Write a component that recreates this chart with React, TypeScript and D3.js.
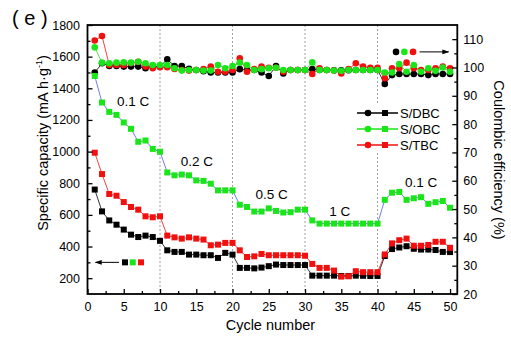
import { useRef, useEffect } from 'react';
import * as d3 from 'd3';

// cycle index 1..50
const cycles = d3.range(1, 51);

// specific capacity, mA h g-1
const capDBC = [
    760, 622, 565, 538, 507, 475, 460, 469, 460, 436,
    376, 366, 366, 349, 349, 345, 345, 328, 360, 349,
    265, 265, 262, 267, 276, 286, 283, 283, 283, 283,
    216, 216, 216, 216, 214, 214, 216, 215, 214, 214,
    340, 384, 394, 402, 386, 381, 381, 378, 366, 365,
];
const capOBC = [
    1478, 1310, 1251, 1232, 1184, 1144, 1062, 1070, 1017, 999,
    868, 850, 855, 850, 818, 815, 797, 755, 755, 755,
    664, 650, 621, 621, 641, 625, 615, 617, 633, 633,
    565, 545, 545, 545, 545, 545, 545, 545, 545, 545,
    695, 740, 745, 695, 705, 712, 670, 680, 688, 645,
];
const capTBC = [
    993, 858, 732, 721, 681, 650, 633, 591, 585, 591,
    469, 458, 450, 458, 450, 444, 408, 412, 423, 423,
    376, 334, 338, 353, 345, 345, 345, 345, 345, 342,
    290, 265, 265, 248, 210, 212, 244, 238, 238, 238,
    350, 420, 440, 450, 405, 405, 410, 430, 430, 392,
];

// coulombic efficiency, %
const ceDBC = [
    98.2, 101.5, 100.5, 100.5, 100.3, 100.3, 100.3, 99.7, 100.3, 100.3,
    102.9, 100.5, 100.5, 99.5, 99.1, 98.7, 98.2, 98.2, 98.2, 98.2,
    99.4, 99.1, 99.1, 98.2, 97.0, 100.5, 97.9, 99.1, 99.1, 99.1,
    99.4, 99.1, 99.1, 99.0, 99.0, 99.0, 99.1, 99.1, 99.1, 99.1,
    94.2, 97.3, 97.7, 97.7, 97.7, 97.7, 97.3, 97.7, 97.7, 97.7,
];
const ceOBC = [
    107.1, 101.7, 101.5, 101.7, 101.8, 101.7, 102.0, 101.5, 100.9, 100.9,
    100.9, 99.7, 98.9, 99.1, 99.1, 98.9, 98.9, 100.9, 99.7, 100.5,
    101.7, 100.9, 99.1, 99.4, 99.7, 99.9, 99.1, 99.1, 99.1, 99.1,
    101.8, 99.1, 99.1, 98.9, 98.8, 99.1, 99.1, 99.1, 99.1, 99.1,
    98.2, 98.2, 101.2, 98.5, 100.9, 98.5, 99.7, 98.8, 100.0, 98.5,
];
const ceTBC = [
    109.5, 111.1, 100.9, 100.9, 100.9, 101.5, 102.0, 100.3, 99.7, 100.1,
    100.1, 99.5, 99.1, 98.9, 99.1, 99.4, 100.3, 98.5, 98.5, 99.1,
    103.2, 98.5, 99.4, 100.3, 99.9, 99.9, 98.5, 99.1, 99.1, 99.1,
    97.7, 99.7, 99.1, 98.9, 97.9, 99.4, 101.5, 100.3, 99.9, 99.9,
    96.2, 99.7, 99.7, 101.7, 99.7, 99.1, 99.1, 99.7, 100.3, 99.7,
];

const seriesNames = ['S/DBC', 'S/OBC', 'S/TBC'];
const seriesColors = ['#000000', '#19e619', '#f01010'];
const capLineColors = ['#000000', '#4a5ce8', '#f01010'];

const rateBreaks = [10, 20, 30, 40];
const rateLabels = [
    { text: '0.1 C', x: 6.3, y: 1314 },
    { text: '0.2 C', x: 15.1, y: 936 },
    { text: '0.5 C', x: 25.4, y: 727 },
    { text: '1 C', x: 34.8, y: 620 },
    { text: '0.1 C', x: 46, y: 803 },
];

const FONT = '"Liberation Sans", Arial, sans-serif';

export default function App() {
    const ref = useRef<SVGSVGElement>(null);

    useEffect(() => {
        if (!ref.current) return;
        const svg = d3.select(ref.current);
        svg.selectAll('*').remove();

        const left = 87.5, right = 457.3, top = 25, bottom = 294;

        const x = d3.scaleLinear().domain([0, 51]).range([left, right]);
        const yL = d3.scaleLinear().domain([100, 1800]).range([bottom, top]);
        const yR = d3.scaleLinear().domain([20, 115]).range([bottom, top]);

        // rate dividers
        svg.append('g').selectAll('line').data(rateBreaks).join('line')
            .attr('x1', d => x(d)).attr('x2', d => x(d))
            .attr('y1', top).attr('y2', bottom)
            .attr('stroke', '#888').attr('stroke-width', 0.8)
            .attr('stroke-dasharray', '2,2');

        const capData = [capDBC, capOBC, capTBC];
        const ceData = [ceDBC, ceOBC, ceTBC];
        const order = [0, 2, 1];

        // coulombic efficiency
        order.forEach(i => {
            const pts = cycles.map((c, k) => [c, ceData[i][k]] as [number, number]);
            const line = d3.line<[number, number]>().x(d => x(d[0])).y(d => yR(d[1]));
            svg.append('path').datum(pts).attr('d', line)
                .attr('fill', 'none').attr('stroke', seriesColors[i]).attr('stroke-width', 0.8);
            svg.append('g').selectAll('circle').data(pts).join('circle')
                .attr('cx', d => x(d[0])).attr('cy', d => yR(d[1])).attr('r', 3.3)
                .attr('fill', seriesColors[i]);
        });

        // capacity
        order.forEach(i => {
            const pts = cycles.map((c, k) => [c, capData[i][k]] as [number, number]);
            const line = d3.line<[number, number]>().x(d => x(d[0])).y(d => yL(d[1]));
            svg.append('path').datum(pts).attr('d', line)
                .attr('fill', 'none').attr('stroke', capLineColors[i]).attr('stroke-width', 0.8);
            svg.append('g').selectAll('rect').data(pts).join('rect')
                .attr('x', d => x(d[0]) - 3).attr('y', d => yL(d[1]) - 3)
                .attr('width', 6).attr('height', 6)
                .attr('fill', seriesColors[i]);
        });

        // rate labels
        svg.append('g').selectAll('text').data(rateLabels).join('text')
            .attr('x', d => x(d.x)).attr('y', d => yL(d.y))
            .attr('text-anchor', 'middle').attr('dominant-baseline', 'central')
            .attr('font-family', FONT).attr('font-size', 13.5)
            .text(d => d.text);

        // axes
        const styleAxis = (g: d3.Selection<SVGGElement, unknown, null, undefined>) => {
            g.selectAll('.domain').remove();
            g.selectAll('line').attr('stroke', '#000').attr('stroke-width', 1.3);
            g.selectAll('text').attr('font-family', FONT).attr('font-size', 12.5).attr('fill', '#000');
        };
        const fmt = d3.format('d');

        const xg = svg.append('g').attr('transform', `translate(0,${bottom})`)
            .call(d3.axisBottom(x).tickValues(d3.range(0, 51, 5)).tickSize(-5).tickPadding(8).tickFormat(fmt as any));
        styleAxis(xg);
        const xm = svg.append('g').attr('transform', `translate(0,${bottom})`)
            .call(d3.axisBottom(x).tickValues(d3.range(2.5, 50, 5)).tickSize(-3).tickFormat(() => ''));
        styleAxis(xm);

        const lg = svg.append('g').attr('transform', `translate(${left},0)`)
            .call(d3.axisLeft(yL).tickValues(d3.range(200, 1801, 200)).tickSize(-5).tickPadding(7.5).tickFormat(fmt as any));
        styleAxis(lg);
        const lm = svg.append('g').attr('transform', `translate(${left},0)`)
            .call(d3.axisLeft(yL).tickValues(d3.range(300, 1800, 200)).tickSize(-3).tickFormat(() => ''));
        styleAxis(lm);

        const rg = svg.append('g').attr('transform', `translate(${right},0)`)
            .call(d3.axisRight(yR).tickValues(d3.range(20, 111, 10)).tickSize(-5).tickPadding(6).tickFormat(fmt as any));
        styleAxis(rg);
        const rm = svg.append('g').attr('transform', `translate(${right},0)`)
            .call(d3.axisRight(yR).tickValues(d3.range(25, 111, 10)).tickSize(-3).tickFormat(() => ''));
        styleAxis(rm);

        // frame
        svg.append('rect').attr('x', left).attr('y', top)
            .attr('width', right - left).attr('height', bottom - top)
            .attr('fill', 'none').attr('stroke', '#000').attr('stroke-width', 1.8);

        // legend
        const leg = svg.append('g');
        leg.append('rect').attr('x', 352).attr('y', 104).attr('width', 92).attr('height', 49).attr('fill', '#fff');
        seriesNames.forEach((name, i) => {
            const ly = 113 + i * 16;
            leg.append('line').attr('x1', 357).attr('x2', 398).attr('y1', ly).attr('y2', ly)
                .attr('stroke', seriesColors[i]).attr('stroke-width', 1.6);
            leg.append('circle').attr('cx', 368).attr('cy', ly).attr('r', 3.3).attr('fill', seriesColors[i]);
            leg.append('rect').attr('x', 382).attr('y', ly - 3).attr('width', 6).attr('height', 6).attr('fill', seriesColors[i]);
            leg.append('text').attr('x', 400).attr('y', ly).attr('dominant-baseline', 'central')
                .attr('font-family', FONT).attr('font-size', 13).text(name);
        });

        // arrows pointing to axes
        const defs = svg.append('defs');
        defs.append('marker').attr('id', 'ah').attr('viewBox', '0 0 10 10')
            .attr('refX', 9).attr('refY', 5).attr('markerWidth', 7).attr('markerHeight', 7)
            .attr('orient', 'auto-start-reverse')
            .append('path').attr('d', 'M0,1.5 L10,5 L0,8.5 Z').attr('fill', '#000');

        svg.append('line').attr('x1', x(4.35)).attr('x2', x(1.1))
            .attr('y1', yL(300)).attr('y2', yL(300))
            .attr('stroke', '#000').attr('stroke-width', 1).attr('marker-end', 'url(#ah)');
        [5.17, 6.24, 7.38].forEach((c, i) => {
            svg.append('rect').attr('x', x(c) - 3).attr('y', yL(300) - 3)
                .attr('width', 6).attr('height', 6).attr('fill', seriesColors[i]);
        });
        svg.append('line').attr('x1', x(45.8)).attr('x2', x(49.8))
            .attr('y1', yR(105.5)).attr('y2', yR(105.5))
            .attr('stroke', '#000').attr('stroke-width', 1).attr('marker-end', 'url(#ah)');
        [42.55, 43.7, 44.9].forEach((c, i) => {
            svg.append('circle').attr('cx', x(c)).attr('cy', yR(105.5)).attr('r', 3.3).attr('fill', seriesColors[i]);
        });

        // titles
        svg.append('text').attr('x', 12).attr('y', 25)
            .attr('font-family', FONT).attr('font-size', 20).text('( e )');

        svg.append('text').attr('x', (left + right) / 2 - 2).attr('y', 330)
            .attr('text-anchor', 'middle').attr('font-family', FONT).attr('font-size', 14.5)
            .text('Cycle number');

        const lt = svg.append('text')
            .attr('transform', `translate(48,143) rotate(-90)`)
            .attr('text-anchor', 'middle').attr('font-family', FONT).attr('font-size', 14.5);
        lt.append('tspan').text('Specific capacity (mA h\u00b7g');
        lt.append('tspan').attr('font-size', 9).attr('dy', -6).text('-1');
        lt.append('tspan').attr('dy', 6).text(')');

        svg.append('text')
            .attr('transform', `translate(494,160) rotate(90)`)
            .attr('text-anchor', 'middle').attr('font-family', FONT).attr('font-size', 14.5)
            .text('Coulombic efficiency (%)');
    }, []);

    return (
        <svg ref={ref} width={511} height={341}
            style={{ position: 'absolute', left: 0, top: 0, background: '#fff' }} />
    );
}
